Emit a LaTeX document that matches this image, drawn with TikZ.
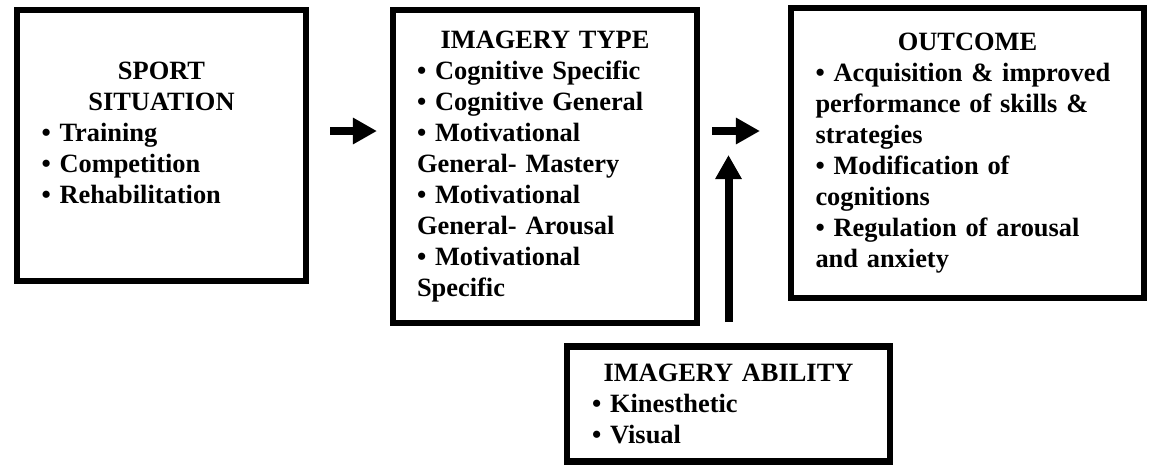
\documentclass[tikz,border=0pt]{standalone}
\usepackage{fontspec}
\setmainfont{Liberation Serif}
\usetikzlibrary{arrows.meta}

\newcommand{\boxhead}[1]{\makebox[\linewidth]{#1}}

\begin{document}
\begin{tikzpicture}[x=0.5pt, y=-0.5pt,
    box/.style={draw, rectangle, line width=3.25pt, align=left, inner sep=0pt,
      font=\fontsize{13.2pt}{15.5pt}\selectfont\bfseries},
    fat/.style={-{Triangle[length=12pt, width=12.5pt]}, line width=4pt}]
    \useasboundingbox (0,0) rectangle (1153,468);

    \node (sit) [box, minimum width=144.5pt, minimum height=135.5pt, text width=120pt] at (161.5,145.5)
      {\boxhead{SPORT}\\ \boxhead{SITUATION}\\
       \textbullet\ Training\\ \textbullet\ Competition\\
       \textbullet\ Rehabilitation\rule[-13pt]{0pt}{0pt}};
    \node (type) [box, minimum width=152pt, minimum height=156.5pt, text width=128pt] at (545,166.5)
      {\boxhead{IMAGERY TYPE}\\
       \textbullet\ Cognitive Specific\\ \textbullet\ Cognitive General\\
       \textbullet\ Motivational\\ General- Mastery\\
       \textbullet\ Motivational\\ General- Arousal\\
       \textbullet\ Motivational\\ Specific};
    \node (outcome) [box, minimum width=176.5pt, minimum height=145pt, text width=152pt] at (967.5,153)
      {\boxhead{OUTCOME}\\
       \textbullet\ Acquisition \& improved\\ performance of skills \&\\ strategies\\
       \textbullet\ Modification of\\ cognitions\\
       \textbullet\ Regulation of arousal\\ and anxiety};
    \node (ability) [box, minimum width=161.5pt, minimum height=57.5pt, text width=136.5pt] at (728.5,404)
      {\boxhead{IMAGERY ABILITY}\\
       \textbullet\ Kinesthetic\\ \textbullet\ Visual};

    \coordinate (meet) at (729,155);

    \draw [fat, shorten <=10.5pt, shorten >=6.4pt] ([yshift=7.25pt]sit.east) -- ([yshift=17.75pt]type.west);
    \draw [fat, shorten <=5.9pt, shorten >=13.9pt] ([yshift=17.75pt]type.east) -- ([yshift=11pt]outcome.west);
    \draw [fat, shorten <=10.6pt] (ability) -- (ability |- meet);
\end{tikzpicture}
\end{document}
